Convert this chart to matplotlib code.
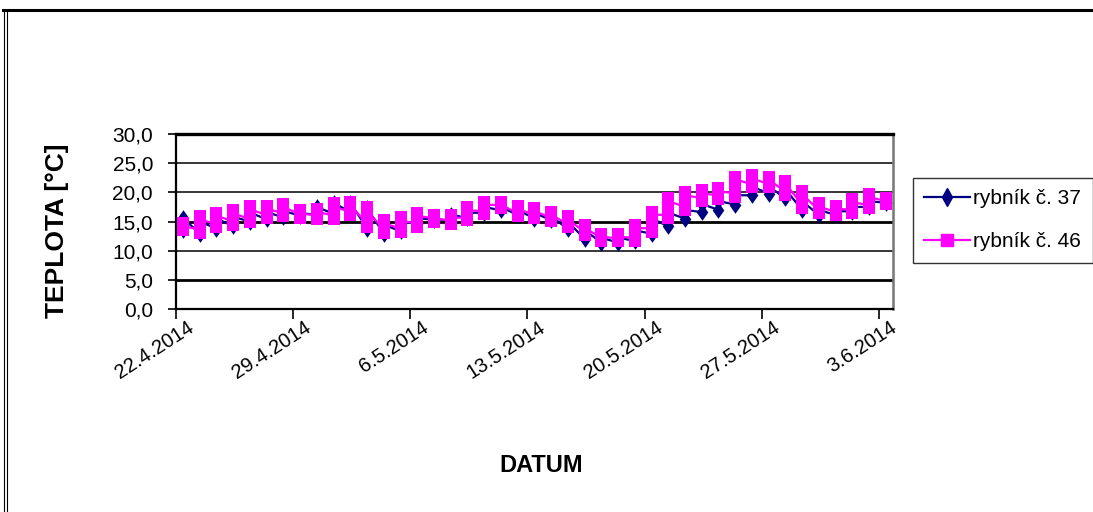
import matplotlib
matplotlib.use("Agg")
import matplotlib.pyplot as plt
import matplotlib.dates as mdates
import matplotlib.transforms as mtransforms
from matplotlib.lines import Line2D
import numpy as np
import pandas as pd

# Daily water temperature readings (°C), two readings per day
dates = pd.date_range("2014-04-22", "2014-06-03", freq="D")

pond37_morning = [13.5, 12.9, 13.8, 14.2, 15.0, 15.4, 15.7, 16.0, 16.2, 16.3, 16.6,
                  13.8, 12.9, 13.3, 14.6, 15.3, 15.1, 15.6, 16.5, 16.9, 16.1, 15.5,
                  15.2, 13.7, 12.0, 11.4, 11.4, 11.7, 12.9, 14.2, 15.5, 16.6, 17.0,
                  17.9, 19.5, 19.8, 19.0, 17.0, 16.1, 16.1, 16.7, 17.5, 18.2]
pond37_afternoon = [15.6, 15.0, 15.5, 15.8, 16.5, 16.6, 16.8, 16.4, 17.5, 18.2, 18.2,
                    17.3, 14.5, 15.0, 15.6, 15.5, 16.2, 16.5, 17.5, 17.5, 17.0, 16.5,
                    15.9, 15.0, 13.5, 12.2, 12.2, 13.5, 15.5, 16.5, 17.0, 18.0, 18.5,
                    19.5, 21.0, 21.0, 20.5, 18.5, 17.0, 16.8, 17.5, 18.5, 18.4]

pond46_morning = [14.0, 13.6, 14.5, 15.0, 15.4, 16.1, 16.4, 16.2, 16.0, 16.0, 16.6,
                  14.6, 13.6, 13.8, 14.6, 15.5, 15.1, 15.7, 16.8, 17.8, 16.4, 16.1,
                  15.6, 14.5, 13.2, 12.2, 12.1, 12.2, 13.8, 16.1, 17.5, 19.0, 19.4,
                  19.8, 21.4, 21.4, 20.1, 17.9, 16.9, 16.6, 17.0, 17.8, 18.5]
pond46_afternoon = [14.2, 15.4, 16.0, 16.4, 17.1, 17.2, 17.5, 16.4, 16.7, 17.6, 17.8,
                    16.9, 14.7, 15.2, 16.0, 15.6, 15.6, 16.9, 17.9, 17.9, 17.2, 16.8,
                    16.2, 15.4, 13.9, 12.4, 12.4, 13.9, 16.2, 18.5, 19.5, 19.9, 20.2,
                    22.2, 22.4, 22.2, 21.5, 19.7, 17.6, 17.2, 18.3, 19.2, 18.5]

series_names = ["rybník č. 37", "rybník č. 46"]
y_ticks = [0, 5, 10, 15, 20, 25, 30]
y_tick_labels = ["0,0", "5,0", "10,0", "15,0", "20,0", "25,0", "30,0"]
x_tick_dates = pd.date_range("2014-04-22", "2014-06-03", freq="7D")

NAVY = "#000080"
MAGENTA = "#FF00FF"
FONT = "Liberation Sans"

W, H = 1093, 512
fig = plt.figure(figsize=(W / 100, H / 100), dpi=100)
fig.patch.set_facecolor("white")

# outer chart frame: thick top rule and a double rule on the left
fig.add_artist(Line2D([3 / W, 1.0], [1 - 10 / H, 1 - 10 / H], transform=fig.transFigure,
                      color="black", lw=2.2))
for xp in (3.5, 6.5):
    fig.add_artist(Line2D([xp / W, xp / W], [0, 1 - 10 / H], transform=fig.transFigure,
                          color="black", lw=0.8))

left, right, top, bottom = 176, 893, 134, 309
ax = fig.add_axes([left / W, 1 - bottom / H, (right - left) / W, (bottom - top) / H])

# each day's readings share the day's slot on the date axis
day_num = mdates.date2num(dates.to_pydatetime()) + 0.42
x = np.repeat(day_num, 2)
y37 = np.column_stack([pond37_morning, pond37_afternoon]).ravel()
y46 = np.column_stack([pond46_morning, pond46_afternoon]).ravel()

rect_marker = [(-0.7, -1), (0.7, -1), (0.7, 1), (-0.7, 1), (-0.7, -1)]
diamond_marker = [(0, -1), (0.7, 0), (0, 1), (-0.7, 0), (0, -1)]

ax.plot(x, y37, color=NAVY, lw=1.6, marker=diamond_marker, ms=12,
        mfc=NAVY, mec=NAVY, mew=0, zorder=3)
ax.plot(x, y46, color=MAGENTA, lw=1.6, marker=rect_marker, ms=12.6,
        mfc=MAGENTA, mec=MAGENTA, mew=0, zorder=4)

x0 = mdates.date2num(dates[0].to_pydatetime())
ax.set_xlim(x0, x0 + 42.85)
ax.set_ylim(0, 30)

# horizontal gridlines
for yv, lw in zip([5, 10, 15, 20, 25], [2.0, 1.1, 2.0, 1.1, 1.1]):
    ax.axhline(yv, color="black", lw=lw, zorder=1)

for s in ["left", "bottom"]:
    ax.spines[s].set_color("black")
    ax.spines[s].set_linewidth(1.6)
ax.spines["top"].set_color("black")
ax.spines["top"].set_linewidth(2.4)
ax.spines["right"].set_color("#777777")
ax.spines["right"].set_linewidth(1.8)

ax.set_yticks(y_ticks)
ax.set_yticklabels(y_tick_labels, fontsize=15, family=FONT)
ax.set_xticks(mdates.date2num(x_tick_dates.to_pydatetime()))
ax.set_xticklabels([f"{d.day}.{d.month}.{d.year}" for d in x_tick_dates],
                   rotation=33, ha="right", va="center", rotation_mode="anchor",
                   fontsize=14.5, family=FONT)
ax.tick_params(axis="y", direction="out", length=6, width=1.2, pad=10.5)
ax.tick_params(axis="x", direction="out", length=7, width=1.2, pad=5)
shift = mtransforms.ScaledTranslation(16 / 100, 0, fig.dpi_scale_trans)
for lab in ax.get_xticklabels():
    lab.set_transform(lab.get_transform() + shift)

ax.set_ylabel("TEPLOTA [°C]", fontsize=19, fontweight="bold", family=FONT)
ax.yaxis.set_label_coords((69 - left) / (right - left), (bottom - 231) / (bottom - top))
fig.text(541 / W, 1 - 466 / H, "DATUM", fontsize=17, fontweight="bold", family=FONT,
         ha="center", va="center")

handles = [
    Line2D([], [], color=NAVY, lw=1.6, marker="d", ms=9, mfc=NAVY, mec=NAVY),
    Line2D([], [], color=MAGENTA, lw=1.6, marker="s", ms=8, mfc=MAGENTA, mec=MAGENTA),
]
leg = fig.legend(handles, series_names, loc="upper left",
                 bbox_to_anchor=(913 / W, 1 - 178 / H), frameon=True, fancybox=False,
                 prop={"family": FONT, "size": 15}, handlelength=2.2, handletextpad=0.15,
                 labelspacing=1.15, borderpad=0.55, borderaxespad=0)
leg.get_frame().set_edgecolor("black")
leg.get_frame().set_linewidth(1.0)

fig.savefig("out.png", dpi=100)
